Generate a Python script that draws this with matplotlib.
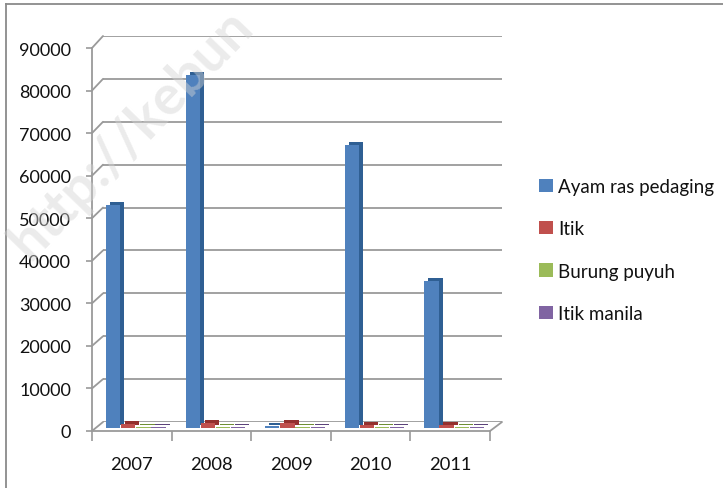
import matplotlib
matplotlib.use("Agg")
import matplotlib.pyplot as plt
from matplotlib.patches import ConnectionPatch
import matplotlib.transforms as mtransforms
import numpy as np

plt.rcParams['font.family'] = ['Lato', 'DejaVu Sans']

years = ['2007', '2008', '2009', '2010', '2011']
series_names = ['Ayam ras pedaging', 'Itik', 'Burung puyuh', 'Itik manila']
ayam_ras = [52500, 83000, 400, 66500, 34500]
itik = [1000, 1200, 1200, 600, 600]
burung_puyuh = [200, 200, 200, 200, 200]
itik_manila = [150, 150, 150, 150, 150]
y_ticks = [0, 10000, 20000, 30000, 40000, 50000, 60000, 70000, 80000, 90000]

front_colors = ['#4F81BD', '#C0504D', '#9BBB59', '#8064A2']
side_colors = ['#2F5F93', '#93302D', '#6F8F35', '#5B4379']

W, H = 723, 489
fig = plt.figure(figsize=(W / 100, H / 100), dpi=100)


def rect(l, t, r, b):
    return [l / W, 1 - b / H, (r - l) / W, (b - t) / H]


grid_color = '#9a9a9a'
text_color = '#111111'

# back wall
ax_back = fig.add_axes(rect(103, 37, 502, 423))
ax_back.set_xlim(-0.5, 4.5)
ax_back.set_ylim(0, 90000)
ax_back.axis('off')
for v in y_ticks:
    ax_back.axhline(v, color=grid_color, lw=1.3)

# front axis
ax = fig.add_axes(rect(92, 49, 490, 432))
ax.set_facecolor('none')
ax.set_xlim(-0.5, 4.5)
ax.set_ylim(0, 90000)
for s in ['top', 'right']:
    ax.spines[s].set_visible(False)
for s in ['left', 'bottom']:
    ax.spines[s].set_color(grid_color)
    ax.spines[s].set_linewidth(1.3)
ax.set_yticks(y_ticks)
ax.set_yticklabels([str(v) for v in y_ticks])
ax.set_xticks(np.arange(-0.5, 5, 1.0))
ax.set_xticklabels([])
ax.set_xticks(np.arange(len(years)), minor=True)
ax.set_xticklabels(years, minor=True)
ax.tick_params(axis='y', length=4, width=1.2, color=grid_color, pad=11,
               labelsize=13, labelcolor=text_color)
ax.tick_params(axis='x', which='major', length=7, width=1.2, color=grid_color, direction='out')
ax.tick_params(axis='x', which='minor', length=0, pad=18, labelsize=13.2,
               labelcolor=text_color)

# depth connectors
for v in y_ticks:
    con = ConnectionPatch(xyA=(0, v), coordsA=ax.get_yaxis_transform(),
                          xyB=(0, v), coordsB=ax_back.get_yaxis_transform(),
                          color=grid_color, lw=1.3)
    fig.add_artist(con)
con = ConnectionPatch(xyA=(1, 0), coordsA=ax.transAxes,
                      xyB=(1, 0), coordsB=ax_back.transAxes,
                      color=grid_color, lw=1.3)
fig.add_artist(con)

# bars plane
ax_bar = fig.add_axes(rect(96, 46, 494, 429))
ax_bar.set_facecolor('none')
ax_bar.set_xlim(-0.5, 4.5)
ax_bar.set_ylim(0, 90000)
ax_bar.axis('off')

x = np.arange(len(years))
all_series = [ayam_ras, itik, burung_puyuh, itik_manila]
width = 0.18
step = 0.19
depth = mtransforms.ScaledTranslation(4 / 100, 3 / 100, fig.dpi_scale_trans)
handles = []
for j, vals in enumerate(all_series):
    pos = x + (j - 1.5) * step
    ax_bar.bar(pos, vals, width=width, color=side_colors[j],
               transform=ax_bar.transData + depth, zorder=2 + j * 2)
    b = ax_bar.bar(pos, vals, width=width, color=front_colors[j],
                   zorder=3 + j * 2, label=series_names[j])
    handles.append(b)

leg = fig.legend(handles=handles, labels=series_names, loc='center left',
                 bbox_to_anchor=(530 / W, 1 - 251 / H), frameon=False,
                 fontsize=13.5, handlelength=0.72, handleheight=0.72,
                 handletextpad=0.3, labelspacing=1.35, borderpad=0)
for t in leg.get_texts():
    t.set_color(text_color)

# watermark
fig.text(30 / W, 1 - 262 / H, 'http://kebun', rotation=46, fontsize=40,
         fontweight='bold', color='#d4d4d4', alpha=0.45, ha='left',
         va='baseline', rotation_mode='anchor', zorder=20)

# outer frame (left and top)
fig.add_artist(plt.Line2D([6 / W, 6 / W], [0, 1 - 5 / H], color='#8a8a8a', lw=1.3))
fig.add_artist(plt.Line2D([6 / W, 1], [1 - 5 / H, 1 - 5 / H], color='#8a8a8a', lw=1.3))

fig.savefig('out.png', dpi=100)
